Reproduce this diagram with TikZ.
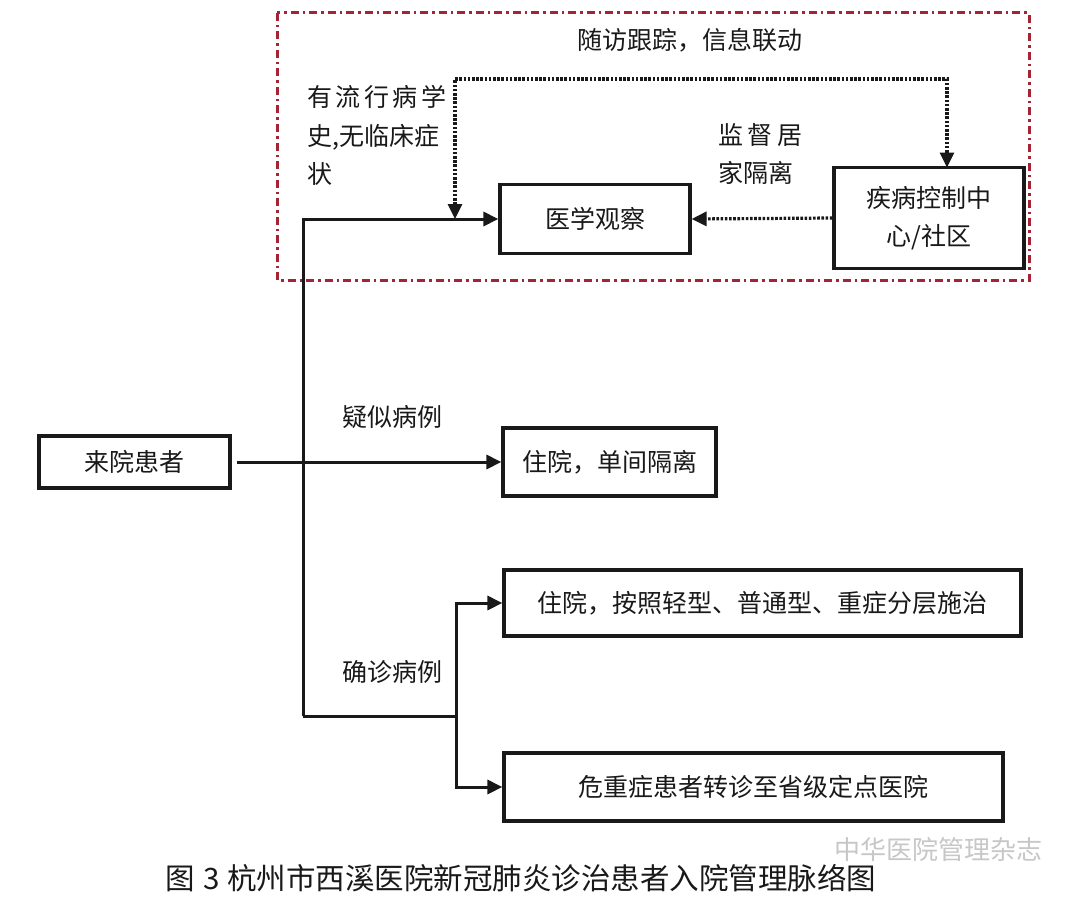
\documentclass[tikz,border=0pt]{standalone}
\usepackage{fontspec}
\setmainfont{Noto Sans CJK SC}
\usetikzlibrary{arrows.meta}
\definecolor{framered}{RGB}{165,35,50}
\definecolor{ink}{RGB}{25,25,25}
\begin{document}
\begin{tikzpicture}[x=1pt,y=-1pt,
  box/.style={draw=ink, line width=3.2pt, rectangle, inner sep=0pt, font=\fontsize{25}{38}\selectfont, text=ink},
  lbl/.style={inner sep=0pt, anchor=base west, font=\fontsize{25}{38}\selectfont, text=ink},
  flow/.style={draw=ink, line width=3pt, -{Triangle[length=15pt,width=14pt]}},
  dotline/.style={draw=ink, line width=3.2pt, dash pattern=on 2.6pt off 1.6pt},
  frame/.style={draw=framered, line width=3pt, dash pattern=on 8pt off 4pt on 2.5pt off 4pt}]
\useasboundingbox (0,0) rectangle (1080,899);
\fill[white] (0,0) rectangle (1080,899);

% dashed frame
\draw[frame] (277,13) rectangle (1029,280);
\node[inner sep=0pt, font=\fontsize{25}{30}\selectfont, text=ink] (title) at (690,40) {随访跟踪，信息联动};

% boxes
\node[box, minimum width=190pt, minimum height=69pt] (obs) at (595,219) {医学观察};
\node[box, minimum width=190pt, minimum height=101pt, align=center] (cdc) at (929,218) {疾病控制中\\心/社区};
\node[box, minimum width=191pt, minimum height=52pt] (lai) at (134.5,462) {来院患者};
\node[box, minimum width=213pt, minimum height=68pt] (b2) at (609.5,462) {住院，单间隔离};
\node[box, minimum width=517pt, minimum height=66pt] (b3) at (762.5,603) {住院，按照轻型、普通型、重症分层施治};
\node[box, minimum width=499pt, minimum height=68pt] (b4) at (753.5,787) {危重症患者转诊至省级定点医院};

% labels
\node[lbl] (e1) at (307,106.5) {有\hspace{3.5pt}流\hspace{3.5pt}行\hspace{3.5pt}病\hspace{3.5pt}学};
\node[lbl] (e2) at (307,145.5) {史,无临床症};
\node[lbl] (e3) at (307,183.5) {状};
\node[lbl] (s1) at (718,144.5) {监\hspace{4.5pt}督\hspace{4.5pt}居};
\node[lbl] (s2) at (718,182.5) {家隔离};
\node[lbl] (q1) at (342,426.5) {疑似病例};
\node[lbl] (q2) at (342,681.5) {确诊病例};

% connectors
\coordinate (j1) at (303,219);
\coordinate (j2) at (303,716);
\coordinate (j3) at (456,716);
\draw[flow] (j2) -- (j1) -- (obs.west);
\draw[flow, shorten <=5pt] (lai.east) -- (b2.west);
\draw[draw=ink, line width=3pt] (j2) -- (j3);
\draw[flow] (j3) |- (b3.west);
\draw[flow] (j3) |- (b4.west);

\coordinate (dl) at (455,219);
\coordinate (cin) at (947,167.5);
\draw[dotline, {Triangle[length=15pt,width=14pt]}-{Triangle[length=15pt,width=14pt]}] (dl) -- (455,79) -| (cin);
\draw[dotline, -{Triangle[length=15pt,width=14pt]}] (cdc.west) -- (obs.east);

% caption and watermark
\node[inner sep=0pt, font=\fontsize{29.5}{34}\selectfont, text=ink] (cap) at (521,878) {图\hspace{8pt}3\hspace{8pt}杭州市西溪医院新冠肺炎诊治患者入院管理脉络图};
\node[inner sep=0pt, font=\fontsize{26}{30}\selectfont, text=black!22] (wm) at (938,850) {中华医院管理杂志};
\end{tikzpicture}
\end{document}
